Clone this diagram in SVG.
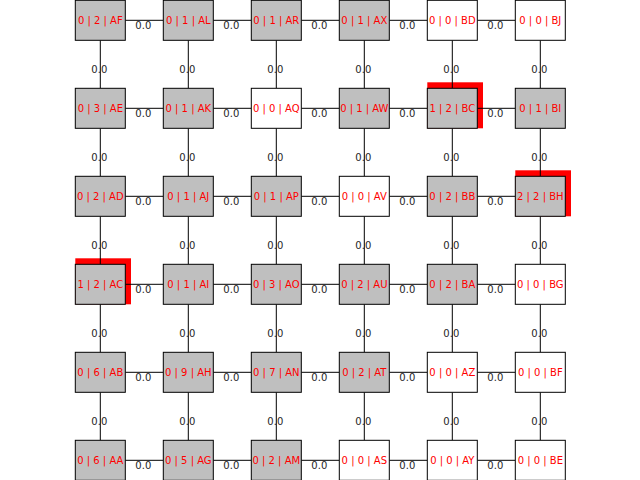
<svg xmlns="http://www.w3.org/2000/svg" width="640" height="480" viewBox="0 0 640 480">
<style>
.bg{fill:#ffffff}
.hl{fill:#ff0000}
.e line{stroke:#000;stroke-width:1}
.el{font-family:"DejaVu Sans",sans-serif;font-size:10px;fill:#262626;text-anchor:middle}
.n rect{stroke:#000;stroke-width:1}
.n .g{fill:#bfbfbf}
.n .w{fill:#ffffff}
.n text{font-family:"DejaVu Sans",sans-serif;font-size:10px;fill:#ff0000;text-anchor:middle}
</style>
<rect class="bg" x="0" y="0" width="640" height="480"/>
<g id="highlights">
<rect class="hl" x="427.3" y="82.3" width="55.7" height="46"/>
<rect class="hl" x="515.3" y="170.3" width="55.7" height="46"/>
<rect class="hl" x="75.3" y="258.3" width="55.7" height="46"/>
</g>
<g id="connectors" class="e">
<line x1="125.3" y1="20.3" x2="163.3" y2="20.3"/><line x1="213.3" y1="20.3" x2="251.3" y2="20.3"/><line x1="301.3" y1="20.3" x2="339.3" y2="20.3"/><line x1="389.3" y1="20.3" x2="427.3" y2="20.3"/><line x1="477.3" y1="20.3" x2="515.3" y2="20.3"/>
<line x1="125.3" y1="108.3" x2="163.3" y2="108.3"/><line x1="213.3" y1="108.3" x2="251.3" y2="108.3"/><line x1="301.3" y1="108.3" x2="339.3" y2="108.3"/><line x1="389.3" y1="108.3" x2="427.3" y2="108.3"/><line x1="477.3" y1="108.3" x2="515.3" y2="108.3"/>
<line x1="125.3" y1="196.3" x2="163.3" y2="196.3"/><line x1="213.3" y1="196.3" x2="251.3" y2="196.3"/><line x1="301.3" y1="196.3" x2="339.3" y2="196.3"/><line x1="389.3" y1="196.3" x2="427.3" y2="196.3"/><line x1="477.3" y1="196.3" x2="515.3" y2="196.3"/>
<line x1="125.3" y1="284.3" x2="163.3" y2="284.3"/><line x1="213.3" y1="284.3" x2="251.3" y2="284.3"/><line x1="301.3" y1="284.3" x2="339.3" y2="284.3"/><line x1="389.3" y1="284.3" x2="427.3" y2="284.3"/><line x1="477.3" y1="284.3" x2="515.3" y2="284.3"/>
<line x1="125.3" y1="372.3" x2="163.3" y2="372.3"/><line x1="213.3" y1="372.3" x2="251.3" y2="372.3"/><line x1="301.3" y1="372.3" x2="339.3" y2="372.3"/><line x1="389.3" y1="372.3" x2="427.3" y2="372.3"/><line x1="477.3" y1="372.3" x2="515.3" y2="372.3"/>
<line x1="125.3" y1="460.3" x2="163.3" y2="460.3"/><line x1="213.3" y1="460.3" x2="251.3" y2="460.3"/><line x1="301.3" y1="460.3" x2="339.3" y2="460.3"/><line x1="389.3" y1="460.3" x2="427.3" y2="460.3"/><line x1="477.3" y1="460.3" x2="515.3" y2="460.3"/>
<line x1="100.3" y1="40.3" x2="100.3" y2="88.3"/><line x1="100.3" y1="128.3" x2="100.3" y2="176.3"/><line x1="100.3" y1="216.3" x2="100.3" y2="264.3"/><line x1="100.3" y1="304.3" x2="100.3" y2="352.3"/><line x1="100.3" y1="392.3" x2="100.3" y2="440.3"/>
<line x1="188.3" y1="40.3" x2="188.3" y2="88.3"/><line x1="188.3" y1="128.3" x2="188.3" y2="176.3"/><line x1="188.3" y1="216.3" x2="188.3" y2="264.3"/><line x1="188.3" y1="304.3" x2="188.3" y2="352.3"/><line x1="188.3" y1="392.3" x2="188.3" y2="440.3"/>
<line x1="276.3" y1="40.3" x2="276.3" y2="88.3"/><line x1="276.3" y1="128.3" x2="276.3" y2="176.3"/><line x1="276.3" y1="216.3" x2="276.3" y2="264.3"/><line x1="276.3" y1="304.3" x2="276.3" y2="352.3"/><line x1="276.3" y1="392.3" x2="276.3" y2="440.3"/>
<line x1="364.3" y1="40.3" x2="364.3" y2="88.3"/><line x1="364.3" y1="128.3" x2="364.3" y2="176.3"/><line x1="364.3" y1="216.3" x2="364.3" y2="264.3"/><line x1="364.3" y1="304.3" x2="364.3" y2="352.3"/><line x1="364.3" y1="392.3" x2="364.3" y2="440.3"/>
<line x1="452.3" y1="40.3" x2="452.3" y2="88.3"/><line x1="452.3" y1="128.3" x2="452.3" y2="176.3"/><line x1="452.3" y1="216.3" x2="452.3" y2="264.3"/><line x1="452.3" y1="304.3" x2="452.3" y2="352.3"/><line x1="452.3" y1="392.3" x2="452.3" y2="440.3"/>
<line x1="540.3" y1="40.3" x2="540.3" y2="88.3"/><line x1="540.3" y1="128.3" x2="540.3" y2="176.3"/><line x1="540.3" y1="216.3" x2="540.3" y2="264.3"/><line x1="540.3" y1="304.3" x2="540.3" y2="352.3"/><line x1="540.3" y1="392.3" x2="540.3" y2="440.3"/>
</g>
<g id="connector-labels" class="el">
<text x="143.3" y="29">0.0</text><text x="231.3" y="29">0.0</text><text x="319.3" y="29">0.0</text><text x="407.3" y="29">0.0</text><text x="495.3" y="29">0.0</text>
<text x="143.3" y="117">0.0</text><text x="231.3" y="117">0.0</text><text x="319.3" y="117">0.0</text><text x="407.3" y="117">0.0</text><text x="495.3" y="117">0.0</text>
<text x="143.3" y="205">0.0</text><text x="231.3" y="205">0.0</text><text x="319.3" y="205">0.0</text><text x="407.3" y="205">0.0</text><text x="495.3" y="205">0.0</text>
<text x="143.3" y="293">0.0</text><text x="231.3" y="293">0.0</text><text x="319.3" y="293">0.0</text><text x="407.3" y="293">0.0</text><text x="495.3" y="293">0.0</text>
<text x="143.3" y="381">0.0</text><text x="231.3" y="381">0.0</text><text x="319.3" y="381">0.0</text><text x="407.3" y="381">0.0</text><text x="495.3" y="381">0.0</text>
<text x="143.3" y="469">0.0</text><text x="231.3" y="469">0.0</text><text x="319.3" y="469">0.0</text><text x="407.3" y="469">0.0</text><text x="495.3" y="469">0.0</text>
<text x="99.3" y="73">0.0</text><text x="99.3" y="161">0.0</text><text x="99.3" y="249">0.0</text><text x="99.3" y="337">0.0</text><text x="99.3" y="425">0.0</text>
<text x="187.3" y="73">0.0</text><text x="187.3" y="161">0.0</text><text x="187.3" y="249">0.0</text><text x="187.3" y="337">0.0</text><text x="187.3" y="425">0.0</text>
<text x="275.3" y="73">0.0</text><text x="275.3" y="161">0.0</text><text x="275.3" y="249">0.0</text><text x="275.3" y="337">0.0</text><text x="275.3" y="425">0.0</text>
<text x="363.3" y="73">0.0</text><text x="363.3" y="161">0.0</text><text x="363.3" y="249">0.0</text><text x="363.3" y="337">0.0</text><text x="363.3" y="425">0.0</text>
<text x="451.3" y="73">0.0</text><text x="451.3" y="161">0.0</text><text x="451.3" y="249">0.0</text><text x="451.3" y="337">0.0</text><text x="451.3" y="425">0.0</text>
<text x="539.3" y="73">0.0</text><text x="539.3" y="161">0.0</text><text x="539.3" y="249">0.0</text><text x="539.3" y="337">0.0</text><text x="539.3" y="425">0.0</text>
</g>
<g id="nodes" class="n">
<g id="AF" transform="translate(100.3,20.3)"><rect class="g" x="-25" y="-20" width="50" height="40"/><text y="3.7">0 | 2 | AF</text></g>
<g id="AE" transform="translate(100.3,108.3)"><rect class="g" x="-25" y="-20" width="50" height="40"/><text y="3.7">0 | 3 | AE</text></g>
<g id="AD" transform="translate(100.3,196.3)"><rect class="g" x="-25" y="-20" width="50" height="40"/><text y="3.7">0 | 2 | AD</text></g>
<g id="AC" transform="translate(100.3,284.3)"><rect class="g" x="-25" y="-20" width="50" height="40"/><text y="3.7">1 | 2 | AC</text></g>
<g id="AB" transform="translate(100.3,372.3)"><rect class="g" x="-25" y="-20" width="50" height="40"/><text y="3.7">0 | 6 | AB</text></g>
<g id="AA" transform="translate(100.3,460.3)"><rect class="g" x="-25" y="-20" width="50" height="40"/><text y="3.7">0 | 6 | AA</text></g>
<g id="AL" transform="translate(188.3,20.3)"><rect class="g" x="-25" y="-20" width="50" height="40"/><text y="3.7">0 | 1 | AL</text></g>
<g id="AK" transform="translate(188.3,108.3)"><rect class="g" x="-25" y="-20" width="50" height="40"/><text y="3.7">0 | 1 | AK</text></g>
<g id="AJ" transform="translate(188.3,196.3)"><rect class="g" x="-25" y="-20" width="50" height="40"/><text y="3.7">0 | 1 | AJ</text></g>
<g id="AI" transform="translate(188.3,284.3)"><rect class="g" x="-25" y="-20" width="50" height="40"/><text y="3.7">0 | 1 | AI</text></g>
<g id="AH" transform="translate(188.3,372.3)"><rect class="g" x="-25" y="-20" width="50" height="40"/><text y="3.7">0 | 9 | AH</text></g>
<g id="AG" transform="translate(188.3,460.3)"><rect class="g" x="-25" y="-20" width="50" height="40"/><text y="3.7">0 | 5 | AG</text></g>
<g id="AR" transform="translate(276.3,20.3)"><rect class="g" x="-25" y="-20" width="50" height="40"/><text y="3.7">0 | 1 | AR</text></g>
<g id="AQ" transform="translate(276.3,108.3)"><rect class="w" x="-25" y="-20" width="50" height="40"/><text y="3.7">0 | 0 | AQ</text></g>
<g id="AP" transform="translate(276.3,196.3)"><rect class="g" x="-25" y="-20" width="50" height="40"/><text y="3.7">0 | 1 | AP</text></g>
<g id="AO" transform="translate(276.3,284.3)"><rect class="g" x="-25" y="-20" width="50" height="40"/><text y="3.7">0 | 3 | AO</text></g>
<g id="AN" transform="translate(276.3,372.3)"><rect class="g" x="-25" y="-20" width="50" height="40"/><text y="3.7">0 | 7 | AN</text></g>
<g id="AM" transform="translate(276.3,460.3)"><rect class="g" x="-25" y="-20" width="50" height="40"/><text y="3.7">0 | 2 | AM</text></g>
<g id="AX" transform="translate(364.3,20.3)"><rect class="g" x="-25" y="-20" width="50" height="40"/><text y="3.7">0 | 1 | AX</text></g>
<g id="AW" transform="translate(364.3,108.3)"><rect class="g" x="-25" y="-20" width="50" height="40"/><text y="3.7">0 | 1 | AW</text></g>
<g id="AV" transform="translate(364.3,196.3)"><rect class="w" x="-25" y="-20" width="50" height="40"/><text y="3.7">0 | 0 | AV</text></g>
<g id="AU" transform="translate(364.3,284.3)"><rect class="g" x="-25" y="-20" width="50" height="40"/><text y="3.7">0 | 2 | AU</text></g>
<g id="AT" transform="translate(364.3,372.3)"><rect class="g" x="-25" y="-20" width="50" height="40"/><text y="3.7">0 | 2 | AT</text></g>
<g id="AS" transform="translate(364.3,460.3)"><rect class="w" x="-25" y="-20" width="50" height="40"/><text y="3.7">0 | 0 | AS</text></g>
<g id="BD" transform="translate(452.3,20.3)"><rect class="w" x="-25" y="-20" width="50" height="40"/><text y="3.7">0 | 0 | BD</text></g>
<g id="BC" transform="translate(452.3,108.3)"><rect class="g" x="-25" y="-20" width="50" height="40"/><text y="3.7">1 | 2 | BC</text></g>
<g id="BB" transform="translate(452.3,196.3)"><rect class="g" x="-25" y="-20" width="50" height="40"/><text y="3.7">0 | 2 | BB</text></g>
<g id="BA" transform="translate(452.3,284.3)"><rect class="g" x="-25" y="-20" width="50" height="40"/><text y="3.7">0 | 2 | BA</text></g>
<g id="AZ" transform="translate(452.3,372.3)"><rect class="w" x="-25" y="-20" width="50" height="40"/><text y="3.7">0 | 0 | AZ</text></g>
<g id="AY" transform="translate(452.3,460.3)"><rect class="w" x="-25" y="-20" width="50" height="40"/><text y="3.7">0 | 0 | AY</text></g>
<g id="BJ" transform="translate(540.3,20.3)"><rect class="w" x="-25" y="-20" width="50" height="40"/><text y="3.7">0 | 0 | BJ</text></g>
<g id="BI" transform="translate(540.3,108.3)"><rect class="g" x="-25" y="-20" width="50" height="40"/><text y="3.7">0 | 1 | BI</text></g>
<g id="BH" transform="translate(540.3,196.3)"><rect class="g" x="-25" y="-20" width="50" height="40"/><text y="3.7">2 | 2 | BH</text></g>
<g id="BG" transform="translate(540.3,284.3)"><rect class="w" x="-25" y="-20" width="50" height="40"/><text y="3.7">0 | 0 | BG</text></g>
<g id="BF" transform="translate(540.3,372.3)"><rect class="w" x="-25" y="-20" width="50" height="40"/><text y="3.7">0 | 0 | BF</text></g>
<g id="BE" transform="translate(540.3,460.3)"><rect class="w" x="-25" y="-20" width="50" height="40"/><text y="3.7">0 | 0 | BE</text></g>
</g>
</svg>
